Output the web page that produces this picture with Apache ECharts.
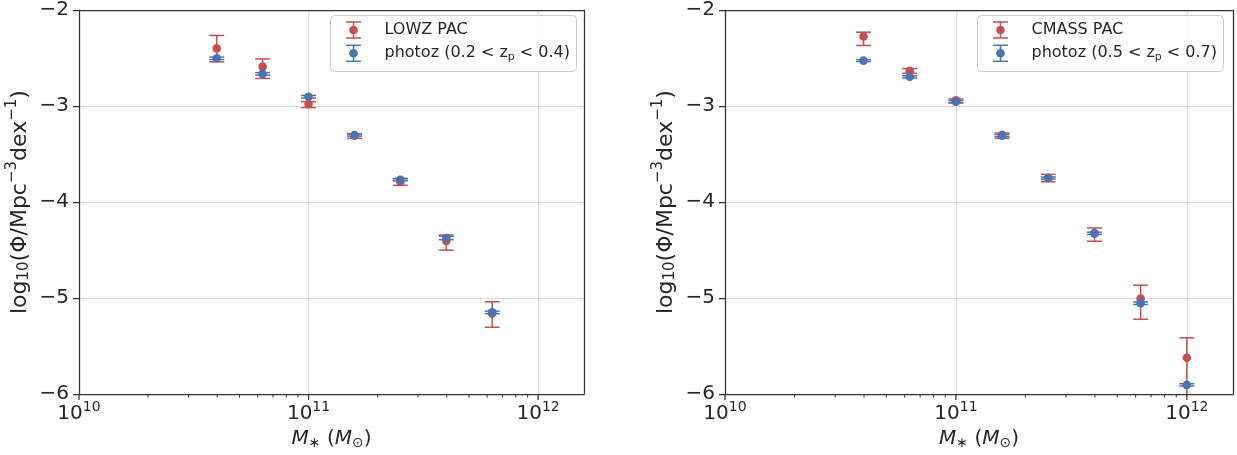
<!DOCTYPE html>
<html>
<head>
<meta charset="utf-8">
<script src="https://cdn.jsdelivr.net/npm/echarts@6/dist/echarts.min.js"></script>
<style>
html,body{margin:0;padding:0;background:#fff;}
#chart{width:1237px;height:455px;}
</style>
</head>
<body>
<div id="chart"></div>
<script>
// ---------------- data ----------------
const logMassLeft = [10.6, 10.8, 11.0, 11.2, 11.4, 11.6, 11.8];
const lowzPAC     = [-2.40, -2.59, -2.98, -3.31, -3.79, -4.405, -5.16];
const lowzPAC_lo  = [-2.54, -2.713, -3.016, -3.336, -3.826, -4.501, -5.304];
const lowzPAC_hi  = [-2.265, -2.51, -2.954, -3.289, -3.754, -4.343, -5.039];
const photozLow    = [-2.503, -2.665, -2.903, -3.302, -3.768, -4.374, -5.149];
const photozLow_lo = [-2.516, -2.678, -2.916, -3.313, -3.779, -4.392, -5.162];
const photozLow_hi = [-2.490, -2.652, -2.890, -3.291, -3.757, -4.356, -5.136];

const logMassRight = [10.6, 10.8, 11.0, 11.2, 11.4, 11.6, 11.8, 12.0];
const cmassPAC     = [-2.276, -2.634, -2.941, -3.299, -3.747, -4.326, -5.004, -5.621];
const cmassPAC_lo  = [-2.369, -2.658, -2.968, -3.337, -3.788, -4.408, -5.221, -6.25];
const cmassPAC_hi  = [-2.231, -2.610, -2.927, -3.282, -3.712, -4.270, -4.866, -5.414];
const photozHigh    = [-2.527, -2.696, -2.954, -3.309, -3.750, -4.326, -5.053, -5.904];
const photozHigh_lo = [-2.537, -2.707, -2.965, -3.320, -3.761, -4.338, -5.066, -5.916];
const photozHigh_hi = [-2.517, -2.685, -2.943, -3.298, -3.739, -4.314, -5.040, -5.892];

const legendLeft  = ['LOWZ PAC', 'photoz (0.2 < z{sub|p} < 0.4)'];
const legendRight = ['CMASS PAC', 'photoz (0.5 < z{sub|p} < 0.7)'];

const xMinExp = 10, xMaxExp = 12.2;
const majorTickExp = [10, 11, 12];
const minorTickMult = [2, 3, 4, 5, 6, 7, 8, 9];
const yMin = -6, yMax = -2, yStep = 1;

// ---------------- style ----------------
const FONT = 'DejaVu Sans';
const TXT = '#262626';
const RED = '#C44E52';
const BLUE = '#4C72B0';
const SPINE = '#333333';

const chart = echarts.init(document.getElementById('chart'), null, {renderer: 'canvas'});

const grids = [
  {left: 79, top: 8, width: 505, height: 387},
  {left: 725, top: 8, width: 508, height: 387}
];

function errData(logM, val, lo, hi) {
  return logM.map((m, i) => [Math.pow(10, m), val[i], lo[i], hi[i]]);
}

function errRender(color) {
  return function (params, api) {
    const x = api.value(0), y = api.value(1), lo = api.value(2), hi = api.value(3);
    const cs = params.coordSys;
    const p = api.coord([x, y]);
    const pl = api.coord([x, lo]);
    const ph = api.coord([x, hi]);
    const yb = cs.y + cs.height, yt = cs.y;
    const loIn = pl[1] <= yb + 0.5;
    const hiIn = ph[1] >= yt - 0.5;
    const yl = Math.min(pl[1], yb), yh = Math.max(ph[1], yt);
    const hw = 7.5;
    const st = {stroke: color, lineWidth: 1.5, fill: null};
    const children = [
      {type: 'line', shape: {x1: p[0], y1: yl, x2: p[0], y2: yh}, style: st}
    ];
    if (loIn) children.push({type: 'line', shape: {x1: p[0] - hw, y1: pl[1], x2: p[0] + hw, y2: pl[1]}, style: st});
    if (hiIn) children.push({type: 'line', shape: {x1: p[0] - hw, y1: ph[1], x2: p[0] + hw, y2: ph[1]}, style: st});
    children.push({type: 'circle', shape: {cx: p[0], cy: p[1], r: 4.3}, style: {fill: color, stroke: null}});
    return {type: 'group', children: children};
  };
}

// tick marks for log x axis (major + minor)
const xTickData = [];
majorTickExp.forEach(e => { if (e >= xMinExp && e <= xMaxExp) xTickData.push([Math.pow(10, e), yMin, 1]); });
majorTickExp.forEach(e => {
  minorTickMult.forEach(m => {
    const v = m * Math.pow(10, e);
    if (Math.log10(v) <= xMaxExp) xTickData.push([v, yMin, 0]);
  });
});

function tickRender(params, api) {
  const p = api.coord([api.value(0), api.value(1)]);
  const len = api.value(2) === 1 ? 6 : 3.5;
  const w = api.value(2) === 1 ? 1.25 : 1;
  return {type: 'line', shape: {x1: p[0], y1: p[1], x2: p[0], y2: p[1] + len},
          style: {stroke: SPINE, lineWidth: w}};
}

function xAxisCfg(gi) {
  return {
    type: 'log', logBase: 10, gridIndex: gi, position: 'bottom',
    min: Math.pow(10, xMinExp), max: Math.pow(10, xMaxExp),
    axisLine: {show: true, lineStyle: {color: SPINE, width: 1.25}},
    axisTick: {show: false},
    minorTick: {show: false},
    splitLine: {show: true, lineStyle: {color: '#dcdcdc', width: 1.2}},
    axisLabel: {
      margin: 6,
      color: TXT,
      fontFamily: FONT,
      formatter: function (v) {
        const e = Math.log10(v);
        if (Math.abs(e - Math.round(e)) > 1e-6) return '';
        return '{b|10}{s|' + Math.round(e) + '}';
      },
      rich: {
        b: {fontSize: 20, fontFamily: FONT, color: TXT},
        s: {fontSize: 14, fontFamily: FONT, color: TXT, padding: [0, 0, 14, 0]}
      }
    },
    name: '{i|M}{sub|\u2217} ({i|M}{sub|\u2299})',
    nameLocation: 'middle',
    nameGap: 32,
    nameTextStyle: {
      fontSize: 20, fontFamily: FONT, color: TXT,
      rich: {
        i: {fontSize: 20, fontFamily: FONT, fontStyle: 'italic', color: TXT},
        sub: {fontSize: 14, fontFamily: FONT, color: TXT, padding: [8, 0, 0, 0]}
      }
    }
  };
}

function xAxisTopCfg(gi) {
  return {
    type: 'log', logBase: 10, gridIndex: gi, position: 'top',
    min: Math.pow(10, xMinExp), max: Math.pow(10, xMaxExp),
    axisLine: {show: true, onZero: false, lineStyle: {color: SPINE, width: 1.25}},
    axisTick: {show: false}, axisLabel: {show: false}, splitLine: {show: false}
  };
}

function yAxisCfg(gi) {
  return {
    type: 'value', gridIndex: gi, min: yMin, max: yMax, interval: yStep, position: 'left',
    axisLine: {show: true, onZero: false, lineStyle: {color: SPINE, width: 1.25}},
    axisTick: {show: true, inside: false, length: 6, lineStyle: {color: SPINE, width: 1.25}},
    splitLine: {show: true, lineStyle: {color: '#dcdcdc', width: 1.2}},
    axisLabel: {
      margin: 10, fontSize: 20, fontFamily: FONT, color: TXT,
      formatter: v => (v < 0 ? '\u2212' : '') + Math.abs(v)
    },
    name: 'log{sub|10}(\u03A6/Mpc{sup|\u22123}dex{sup|\u22121})',
    nameLocation: 'middle',
    nameGap: 44,
    nameRotate: 90,
    nameTextStyle: {
      fontSize: 22, fontFamily: FONT, color: TXT,
      rich: {
        sub: {fontSize: 15, fontFamily: FONT, color: TXT, padding: [9, 0, 0, 0]},
        sup: {fontSize: 15, fontFamily: FONT, color: TXT, padding: [0, 0, 15, 0]}
      }
    }
  };
}

function yAxisRightCfg(gi) {
  return {
    type: 'value', gridIndex: gi, min: yMin, max: yMax, interval: yStep, position: 'right',
    axisLine: {show: true, onZero: false, lineStyle: {color: SPINE, width: 1.25}},
    axisTick: {show: false}, axisLabel: {show: false}, splitLine: {show: false}
  };
}

function legendGraphic(x0, names, colors) {
  const y0 = 15.5, w = 246, h = 56;
  const els = [{
    type: 'rect', shape: {x: x0, y: y0, width: w, height: h, r: 4},
    style: {fill: 'rgba(255,255,255,0.85)', stroke: '#cccccc', lineWidth: 1}, z: 50
  }];
  const rows = [30, 53.3];
  names.forEach((n, i) => {
    const cx = x0 + 23, cy = rows[i], c = colors[i];
    const st = {stroke: c, lineWidth: 1.5, fill: null};
    els.push({type: 'line', shape: {x1: cx, y1: cy - 8, x2: cx, y2: cy + 8}, style: st, z: 51});
    els.push({type: 'line', shape: {x1: cx - 7.5, y1: cy - 8, x2: cx + 7.5, y2: cy - 8}, style: st, z: 51});
    els.push({type: 'line', shape: {x1: cx - 7.5, y1: cy + 8, x2: cx + 7.5, y2: cy + 8}, style: st, z: 51});
    els.push({type: 'circle', shape: {cx: cx, cy: cy, r: 4.3}, style: {fill: c}, z: 51});
    els.push({
      type: 'text', x: x0 + 54, y: cy, z: 51,
      style: {
        text: n, fontSize: 16, fontFamily: FONT, fill: TXT, verticalAlign: 'middle', align: 'left',
        rich: {sub: {fontSize: 11, fontFamily: FONT, fill: TXT, padding: [7, 0, 0, 0]}}
      }
    });
  });
  return els;
}

const option = {
  backgroundColor: '#ffffff',
  animation: false,
  grid: grids.map(g => Object.assign({show: false}, g)),
  xAxis: [xAxisCfg(0), xAxisCfg(1), xAxisTopCfg(0), xAxisTopCfg(1)],
  yAxis: [yAxisCfg(0), yAxisCfg(1), yAxisRightCfg(0), yAxisRightCfg(1)],
  series: [
    {type: 'custom', name: 'xticksL', xAxisIndex: 0, yAxisIndex: 0, data: xTickData, renderItem: tickRender, silent: true, clip: false, z: 5},
    {type: 'custom', name: 'xticksR', xAxisIndex: 1, yAxisIndex: 1, data: xTickData, renderItem: tickRender, silent: true, clip: false, z: 5},
    {type: 'custom', name: 'LOWZ PAC', xAxisIndex: 0, yAxisIndex: 0, itemStyle: {color: RED},
     data: errData(logMassLeft, lowzPAC, lowzPAC_lo, lowzPAC_hi), renderItem: errRender(RED), z: 10},
    {type: 'custom', name: 'photoz (0.2 < zp < 0.4)', xAxisIndex: 0, yAxisIndex: 0, itemStyle: {color: BLUE},
     data: errData(logMassLeft, photozLow, photozLow_lo, photozLow_hi), renderItem: errRender(BLUE), z: 11},
    {type: 'custom', name: 'CMASS PAC', xAxisIndex: 1, yAxisIndex: 1, itemStyle: {color: RED},
     data: errData(logMassRight, cmassPAC, cmassPAC_lo, cmassPAC_hi), renderItem: errRender(RED), z: 10},
    {type: 'custom', name: 'photoz (0.5 < zp < 0.7)', xAxisIndex: 1, yAxisIndex: 1, itemStyle: {color: BLUE},
     data: errData(logMassRight, photozHigh, photozHigh_lo, photozHigh_hi), renderItem: errRender(BLUE), z: 11}
  ],
  graphic: legendGraphic(330.5, legendLeft, [RED, BLUE]).concat(legendGraphic(977.5, legendRight, [RED, BLUE]))
};
chart.setOption(option);
</script>
</body>
</html>
